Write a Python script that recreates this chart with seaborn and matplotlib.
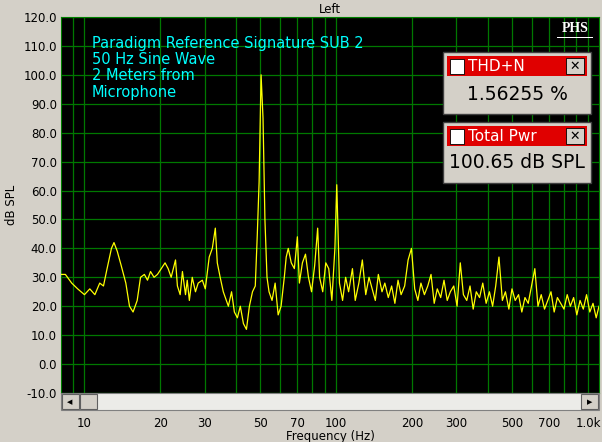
import numpy as np
import pandas as pd
import matplotlib
matplotlib.use("Agg")
import matplotlib.pyplot as plt
import seaborn as sns
from matplotlib.patches import Rectangle

freq_low = [8.0, 8.4, 8.9, 9.4, 10, 10.5, 11, 11.5, 11.9, 12.3, 12.8, 13.1, 13.5, 14.0, 14.6, 15.1,
            15.6, 16.2, 16.7, 17.3, 17.8, 18.3, 18.9, 19.5, 20.2, 20.9, 21.5, 22.1, 23.0, 23.4, 24.0,
            24.5, 25.2, 25.6, 26.1, 26.8, 27.6, 28.3, 29.4, 30.2, 31.3, 32.2, 33.1, 33.7, 34.6, 35.6,
            36.6, 37.3, 38.4, 39.4, 40.5, 41.6, 42.8, 44.0, 45.2, 46.5, 47.7, 48.6, 49.4, 50.3, 51.2,
            52.1, 53.1, 54.1, 55.6, 57.2, 58.8, 60.4, 62.2, 63.3, 64.5, 66.3, 68.2, 70.1, 71.4, 73.4,
            75.5, 77.6, 79.8, 82.1, 84.4, 85.9, 88.4, 90.9, 93.4, 96.1, 98.8, 100.5]
db_low = [31, 31, 28, 26, 24, 26, 24, 28, 27, 33, 40, 42, 39, 34, 28, 20,
          18, 22, 30, 31, 29, 32, 30, 31, 33, 35, 33, 30, 36, 27, 24,
          32, 24, 29, 22, 30, 25, 28, 29, 26, 37, 40, 47, 35, 30, 25,
          22, 20, 25, 18, 16, 20, 14, 12, 20, 25, 27, 45, 63, 100, 85,
          50, 30, 25, 22, 28, 17, 20, 30, 37, 40, 35, 33, 44, 28, 35,
          38, 30, 25, 34, 47, 30, 25, 35, 33, 22, 40, 62]
freq_high = [103, 106, 109, 112, 116, 119, 123, 127, 131, 135, 139, 143, 147, 152, 156, 161, 166, 171,
             176, 181, 187, 193, 199, 205, 211, 217, 224, 231, 238, 245, 252, 260, 268, 276, 284, 293,
             302, 311, 320, 330, 340, 350, 360, 371, 382, 394, 406, 418, 430, 443, 457, 470, 485, 499,
             514, 530, 546, 562, 579, 597, 615, 633, 652, 672, 692, 713, 734, 756, 779, 803, 827, 851,
             877, 903, 930, 958, 987, 1017, 1047, 1078, 1106]
db_high = [28, 22, 30, 25, 33, 22, 28, 36, 24, 30, 26, 22, 31, 25, 28, 23, 27, 21,
           29, 24, 27, 36, 40, 26, 22, 28, 24, 27, 31, 21, 26, 23, 29, 22, 25, 27,
           20, 35, 24, 22, 27, 19, 25, 23, 28, 21, 25, 20, 27, 37, 22, 25, 19, 26,
           22, 24, 18, 23, 21, 27, 33, 20, 24, 19, 22, 25, 18, 23, 21, 19, 24, 20,
           23, 17, 22, 19, 24, 18, 21, 16, 20]
x_ticks = [10, 20, 30, 50, 70, 100, 200, 300, 500, 700, 1000]
x_tick_labels = ["10", "20", "30", "50", "70", "100", "200", "300", "500", "700", "1.0k"]
y_ticks = list(range(-10, 121, 10))

df = pd.DataFrame({"f": freq_low + freq_high, "db": db_low + db_high})

W, H = 602, 442
bg = "#D4D0C8"
fig = plt.figure(figsize=(W / 100, H / 100), dpi=100, facecolor=bg)
ax = fig.add_axes([61 / W, 1 - 393 / H, 538 / W, 376 / H])
ax.set_facecolor("black")
ax.set_xscale("log")
ax.set_xlim(8.07, 1106)
ax.set_ylim(-10, 120)

grid_x = [9] + list(range(10, 100, 10)) + list(range(100, 1001, 100))
for g in grid_x:
    ax.axvline(g, color="#007800", lw=0.9, zorder=0)
for g in y_ticks:
    ax.axhline(g, color="#007800", lw=0.9, zorder=0)

sns.lineplot(data=df, x="f", y="db", ax=ax, color="#FFFF00", lw=0.9, sort=False, zorder=3)

ax.set_yticks(y_ticks)
ax.set_yticklabels([f"{v:.1f}" for v in y_ticks], fontsize=8.5)
ax.set_xticks(x_ticks)
ax.set_xticklabels(x_tick_labels, fontsize=8.5)
ax.xaxis.set_minor_locator(matplotlib.ticker.NullLocator())
ax.tick_params(axis="x", direction="out", length=0, pad=17)
ax.tick_params(axis="y", length=0, pad=3)
ax.set_xlabel("Frequency (Hz)", fontsize=8.5, labelpad=0)
ax.set_ylabel("dB SPL", fontsize=8.5, labelpad=4)
for s in ax.spines.values():
    s.set_color("#008000")
ax.set_title("Left", fontsize=8.5, pad=3)

# scrollbar
fig.patches.append(Rectangle((61 / W, 1 - 410 / H), 538 / W, 17 / H, transform=fig.transFigure,
                             facecolor="#ECECE8", edgecolor="#808080", lw=0.8))
for x0 in (62, 80):
    fig.patches.append(Rectangle((x0 / W, 1 - 409 / H), 17 / W, 15 / H, transform=fig.transFigure,
                                 facecolor=bg, edgecolor="#606060", lw=0.8))
fig.patches.append(Rectangle((581 / W, 1 - 409 / H), 17 / W, 15 / H, transform=fig.transFigure,
                             facecolor=bg, edgecolor="#606060", lw=0.8))
fig.text(70 / W, 1 - 402 / H, "◀", fontsize=5, ha="center", va="center")
fig.text(590 / W, 1 - 402 / H, "▶", fontsize=5, ha="center", va="center")

# annotation text
fig.text(92 / W, 1 - 36 / H, "Paradigm Reference Signature SUB 2\n50 Hz Sine Wave\n2 Meters from\nMicrophone",
         color="#00FFFF", fontsize=10.5, va="top", ha="left", linespacing=1.1)
fig.text(575 / W, 1 - 29 / H, "PHS", color="white", fontsize=10, fontweight="bold",
         family="Liberation Serif", ha="center", va="center")
fig.patches.append(Rectangle((557 / W, 1 - 38 / H), 36 / W, 1.2 / H, transform=fig.transFigure,
                             facecolor="white", edgecolor="none"))

def box(y_top, h, title, value, vy):
    fig.patches.append(Rectangle((443 / W, 1 - (y_top + h) / H), 148 / W, h / H, transform=fig.transFigure,
                                 facecolor=bg, edgecolor="#404040", lw=1))
    fig.patches.append(Rectangle((447 / W, 1 - (y_top + 24) / H), 140 / W, 20 / H, transform=fig.transFigure,
                                 facecolor="#E00000", edgecolor="none"))
    fig.patches.append(Rectangle((450 / W, 1 - (y_top + 22) / H), 14 / W, 15 / H, transform=fig.transFigure,
                                 facecolor="white", edgecolor="black", lw=0.6))
    fig.patches.append(Rectangle((566 / W, 1 - (y_top + 22) / H), 18 / W, 16 / H, transform=fig.transFigure,
                                 facecolor=bg, edgecolor="black", lw=0.6))
    fig.text(575 / W, 1 - (y_top + 14) / H, "✕", fontsize=9, fontweight="bold", ha="center", va="center")
    fig.text(468 / W, 1 - (y_top + 14.5) / H, title, color="white", fontsize=11, ha="left", va="center")
    fig.text(517 / W, 1 - (y_top + vy) / H, value, color="black", fontsize=13.5, ha="center", va="center")

box(52, 62, "THD+N", "1.56255 %", 43)
box(122, 61, "Total Pwr", "100.65 dB SPL", 41)

fig.savefig("out.png", dpi=100, facecolor=bg)
